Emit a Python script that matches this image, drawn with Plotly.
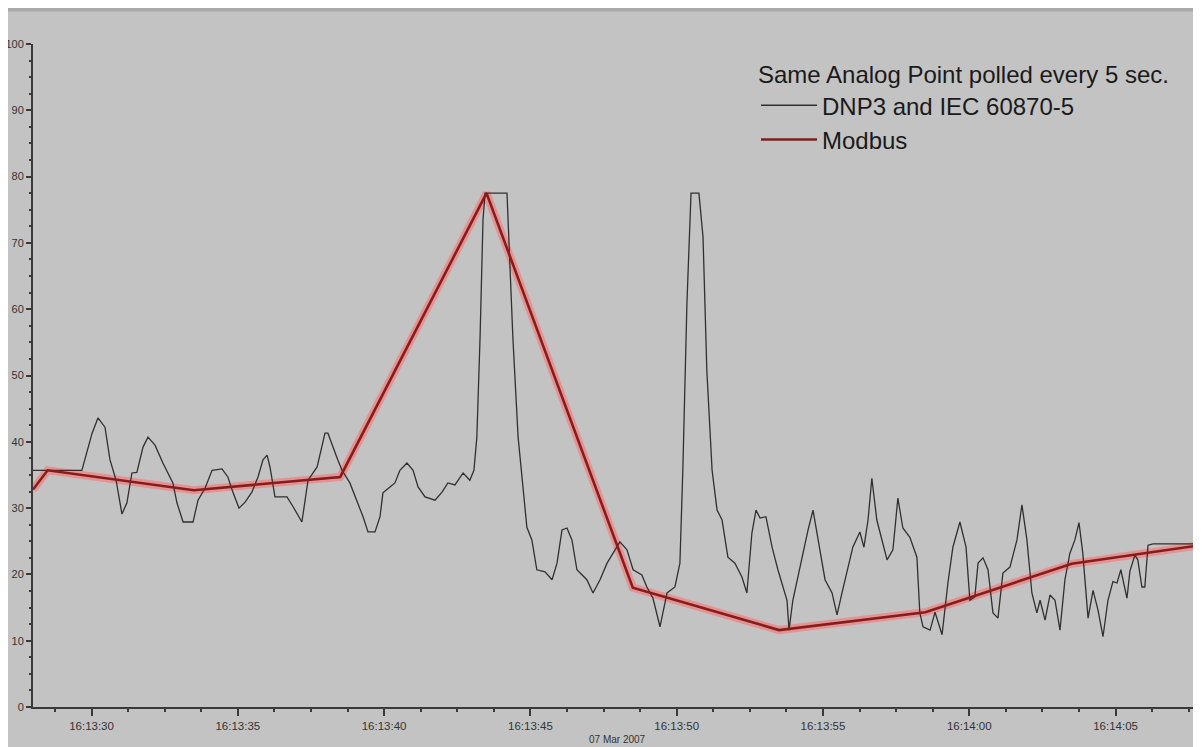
import pandas as pd
import plotly.graph_objects as go

BASE_TIME = "2007-03-07 16:13:28"
FIRST_TICK = "2007-03-07 16:13:30"
DATE_LABEL = "07 Mar 2007"

# DNP3 / IEC 60870-5 trace: seconds after 16:13:28 and values
dnp3_sec = [0.00, 1.67, 2.02, 2.22, 2.46, 2.63, 2.84, 3.04, 3.21, 3.38, 3.55, 3.76, 3.93, 4.17,
            4.44, 4.78, 4.92, 5.13, 5.47, 5.64, 5.88, 6.12, 6.46, 6.66, 6.84, 7.04, 7.25, 7.48,
            7.69, 7.86, 8.00, 8.10, 8.27, 8.68, 8.89, 9.19, 9.40, 9.71, 9.98, 10.08, 10.39, 10.56,
            10.83, 11.11, 11.28, 11.45, 11.69, 11.86, 11.96, 12.20, 12.37, 12.54, 12.78, 12.99,
            13.16, 13.40, 13.74, 13.98, 14.18, 14.42, 14.70, 14.93, 15.07, 15.17, 15.28, 15.38,
            15.45, 16.20, 16.30, 16.40, 16.58, 16.88, 17.05, 17.22, 17.50, 17.74, 17.91, 18.08,
            18.25, 18.42, 18.59, 18.93, 19.14, 19.38, 19.62, 19.82, 20.06, 20.30, 20.51, 20.81,
            20.98, 21.19, 21.43, 21.67, 21.94, 22.11, 22.21, 22.35, 22.49, 22.76, 22.90, 23.03,
            23.21, 23.38, 23.55, 23.75, 23.99, 24.23, 24.40, 24.57, 24.71, 24.85, 25.05, 25.26,
            25.46, 25.77, 25.84, 25.97, 26.28, 26.49, 26.66, 26.83, 27.07, 27.31, 27.48, 27.65,
            27.82, 28.02, 28.26, 28.40, 28.54, 28.67, 28.84, 29.19, 29.39, 29.56, 29.73, 29.97,
            30.21, 30.31, 30.42, 30.66, 30.83, 31.07, 31.27, 31.44, 31.68, 31.89, 32.02, 32.19,
            32.30, 32.47, 32.64, 32.81, 32.98, 33.15, 33.39, 33.63, 33.80, 33.97, 34.14, 34.31,
            34.42, 34.59, 34.76, 34.93, 35.10, 35.27, 35.44, 35.61, 35.75, 35.88, 36.06, 36.23,
            36.40, 36.57, 36.74, 36.91, 37.05, 37.18, 37.39, 37.49, 37.66, 37.76, 37.90, 38.00,
            38.11, 38.28, 40.00]
dnp3_val = [35.7, 35.7, 41.3, 43.6, 42.2, 37.3, 34.2, 29.1, 30.8, 35.3, 35.4, 39.2, 40.7, 39.5,
            36.8, 33.8, 30.8, 27.9, 27.9, 31.2, 33.0, 35.7, 35.9, 34.7, 32.3, 30.0, 30.9, 32.4,
            34.7, 37.3, 38.0, 36.2, 31.7, 31.7, 30.2, 27.9, 34.2, 36.2, 41.3, 41.3, 37.6, 35.7,
            33.8, 30.8, 28.7, 26.4, 26.4, 28.7, 32.3, 33.2, 33.8, 35.7, 36.8, 35.7,
            33.2, 31.7, 31.2, 32.4, 33.8, 33.5, 35.3, 34.2, 35.7, 40.7, 55.8, 73.5,
            77.5, 77.5, 65.9, 55.8, 40.7, 27.1, 25.2, 20.7, 20.4, 19.2, 21.7, 26.7,
            27.0, 25.2, 20.7, 19.2, 17.2, 19.2, 21.7, 23.2, 24.9, 23.7, 20.7, 19.9,
            18.1, 16.4, 12.1, 17.2, 18.1, 21.7, 35.7, 60.9, 77.5, 77.5, 70.9, 50.8,
            35.7, 29.7, 28.2, 22.6, 21.7, 19.6, 17.2, 26.2, 29.7, 28.5, 28.7, 24.1,
            20.7, 16.1, 11.6, 16.1, 22.6, 26.7, 29.7, 25.2, 19.2, 17.2, 13.9, 17.2,
            20.2, 24.1, 26.4, 24.1, 28.2, 34.5, 28.2, 22.2, 23.7, 31.5, 27.0, 25.6,
            22.6, 14.2, 12.1, 11.6, 14.3, 10.9, 18.7, 24.1, 27.9, 24.1, 16.1, 16.6,
            21.7, 22.5, 20.7, 14.2, 13.4, 20.2, 21.1, 25.2, 30.5, 25.2, 17.2, 14.2,
            16.1, 13.1, 16.9, 16.1, 11.6, 19.2, 23.2, 25.2, 27.8, 23.2, 13.4, 17.6,
            14.6, 10.6, 16.1, 18.9, 18.7, 20.7, 16.4, 20.5, 22.9, 22.2, 18.1, 18.1,
            24.4, 24.6, 24.6]

# Modbus trace: polled every 5 s
modbus_sec = [0.0, 0.5, 5.5, 10.5, 15.5, 20.5, 25.5, 30.5, 35.5, 40.5]
modbus_val = [32.8, 35.7, 32.7, 34.7, 77.5, 18.0, 11.6, 14.3, 21.6, 24.8]

base = pd.Timestamp(BASE_TIME)
dnp3_t = base + pd.to_timedelta(dnp3_sec, unit="s")
modbus_t = base + pd.to_timedelta(modbus_sec, unit="s")
x_end = base + pd.to_timedelta(39.92, unit="s")

BG = "#c3c3c3"
AX = "#3a3a3a"
FONT = "Liberation Sans, Arial, sans-serif"

fig = go.Figure()
fig.add_trace(go.Scatter(x=modbus_t, y=modbus_val, mode="lines", showlegend=False,
                         hoverinfo="skip",
                         line=dict(color="rgba(255,105,105,0.55)", width=8)))
fig.add_trace(go.Scatter(x=dnp3_t, y=dnp3_val, mode="lines", name="DNP3 and IEC 60870-5",
                         line=dict(color="#303030", width=1.3)))
fig.add_trace(go.Scatter(x=modbus_t, y=modbus_val, mode="lines", name="Modbus",
                         line=dict(color="#861c1c", width=2.6)))

fig.update_layout(
    width=1193, height=739,
    margin=dict(l=25, r=0, t=36, b=40),
    paper_bgcolor=BG, plot_bgcolor=BG,
    font=dict(family=FONT, color="#333333", size=11),
    showlegend=True,
    legend=dict(
        x=0.619, xanchor="left", y=0.988, yanchor="top",
        bgcolor="rgba(0,0,0,0)",
        itemwidth=56,
        font=dict(size=24, color="#1a1a1a", family=FONT),
        title=dict(text="Same Analog Point polled every 5 sec.",
                   font=dict(size=24, color="#1a1a1a", family=FONT)),
        tracegroupgap=0,
    ),
    xaxis=dict(
        type="date", range=[base, x_end], automargin=False,
        tickformat="%H:%M:%S", dtick=5000, tick0=FIRST_TICK,
        showgrid=False, zeroline=False,
        showline=True, linecolor=AX, linewidth=2,
        ticks="outside", ticklen=7, tickwidth=1.5, tickcolor=AX,
        tickfont=dict(size=11.5, color="#333333", family=FONT),
        minor=dict(dtick=1250, tick0=FIRST_TICK, ticks="outside", ticklen=3, tickwidth=1.5,
                   tickcolor=AX, showgrid=False),
    ),
    yaxis=dict(
        range=[0, 100], dtick=10, automargin=False,
        showgrid=False, zeroline=False,
        showline=True, linecolor=AX, linewidth=2,
        ticks="outside", ticklen=5, tickwidth=1.5, tickcolor=AX,
        tickfont=dict(size=11, color="#333333", family=FONT),
        minor=dict(dtick=2.5, ticks="outside", ticklen=2, tickwidth=1.5, tickcolor=AX, showgrid=False),
    ),
    annotations=[
        dict(text=DATE_LABEL, xref="paper", yref="paper", x=0.5, y=-0.049,
             xanchor="center", yanchor="middle", showarrow=False,
             font=dict(size=10, color="#333333", family=FONT)),
    ],
    shapes=[
        dict(type="rect", xref="paper", yref="paper", x0=-0.03, x1=1.01, y0=1.049, y1=1.06,
             fillcolor="#a9a9a9", line=dict(width=0), layer="below"),
    ],
)

fig.write_html("out.html")
